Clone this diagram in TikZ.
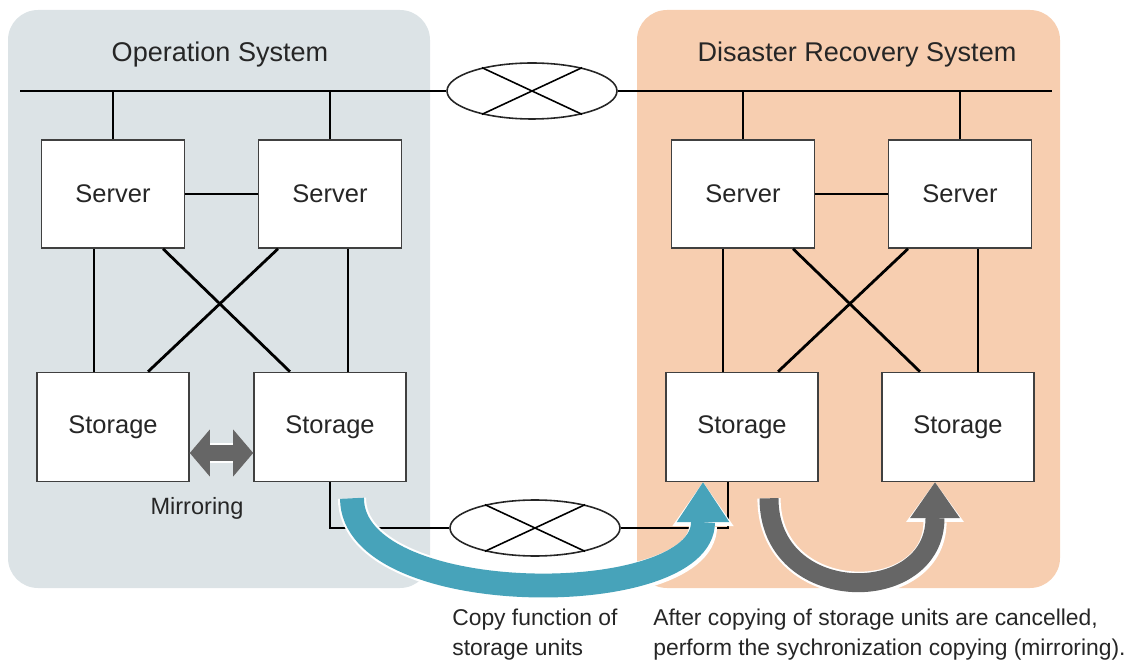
\documentclass[tikz,border=0pt]{standalone}
\usepackage{fontspec}
\setmainfont{Liberation Sans}
\usetikzlibrary{calc,positioning,shapes.geometric,arrows.meta}

\definecolor{opsys}{HTML}{DCE3E6}
\definecolor{drsys}{HTML}{F7CEB0}
\definecolor{copyblue}{HTML}{47A3BA}
\definecolor{mirrorgray}{HTML}{666666}

\begin{document}
\begin{tikzpicture}[
    x=0.02cm, y=-0.02cm,
    server/.style={rectangle, draw=black!75, line width=0.9pt, fill=white, minimum width=2.86cm, minimum height=2.16cm, font=\fontsize{14.5}{17}\selectfont, text=black!85},
    storage/.style={server, minimum width=3.04cm, minimum height=2.18cm},
    network/.style={ellipse, draw=black!85, line width=0.9pt, fill=white, minimum width=3.4cm, minimum height=1.12cm, inner sep=0pt},
    title/.style={font=\fontsize{15.4}{18}\selectfont, text=black!85},
    note/.style={font=\fontsize{13}{17}\selectfont, align=left, inner sep=0pt, text=black!85},
    link/.style={line width=1.6pt},
    cross/.style={line width=0.9pt},
    mirrorarrow/.style={line width=9.6pt, color=mirrorgray, {Triangle[length=11.5pt,width=27pt,line width=0pt]}-{Triangle[length=11.5pt,width=27pt,line width=0pt]}, preaction={draw, color=white, line width=11.6pt}},
    copyarrow/.style={line width=13.6pt, color=copyblue, -{Triangle[length=22.7pt,width=30pt,line width=0pt]}, preaction={draw, color=white, line width=16pt, -{Triangle[length=25pt,width=35pt,line width=0pt]}}},
    syncarrow/.style={line width=10.8pt, color=mirrorgray, -{Triangle[length=20.4pt,width=28.4pt,line width=0pt]}, preaction={draw, color=white, line width=13.2pt, -{Triangle[length=22.6pt,width=33pt,line width=0pt]}}}
]
\useasboundingbox (0,0) rectangle (1143,665);

% Background panels
\fill[opsys, rounded corners=0.6cm] (8,10) rectangle (430,588);
\fill[drsys, rounded corners=0.6cm] (637,10) rectangle (1060,588);

\node[title] (optitle) at (220,55) {Operation System};
\node[title] (drtitle) at (857,55) {Disaster Recovery System};

% Networks
\coordinate (busL) at (20,91);
\coordinate (busR) at (1052,91);
\node[network] (net1) at (532,91) {};
\node[network] (net2) at (535,528) {};

% Operation system
\node[server] (srv1) at (113,194) {Server};
\node[server] (srv2) at (330,194) {Server};
\node[storage] (sto1) at (113,427) {Storage};
\node[storage] (sto2) at (330,427) {Storage};

% Disaster recovery system
\node[server] (rsrv1) at (743,194) {Server};
\node[server] (rsrv2) at (960,194) {Server};
\node[storage] (rsto1) at (742,427) {Storage};
\node[storage] (rsto2) at (958,427) {Storage};

% Bus and WAN
\draw[link] (busL) -- (net1.west);
\draw[link] (net1.east) -- (busR);
\draw[cross] (net1.155) -- (net1.-25);
\draw[cross] (net1.25) -- (net1.-155);
\draw[cross] (net2.155) -- (net2.-25);
\draw[cross] (net2.25) -- (net2.-155);

\draw[link] (srv1.north) -- (srv1.north |- busL);
\draw[link] (srv2.north) -- (srv2.north |- busL);
\draw[link] (rsrv1.north) -- (rsrv1.north |- busL);
\draw[link] (rsrv2.north) -- (rsrv2.north |- busL);

% Server links
\draw[link] (srv1) -- (srv2);
\draw[link] (rsrv1) -- (rsrv2);

\draw[link] ($(srv1.south)+(-19,0)$) -- ($(sto1.north)+(-19,0)$);
\draw[link] ($(srv1.south)+(50,0)$) -- ($(sto2.north)+(-40,0)$);
\draw[link] ($(srv2.south)+(-52,0)$) -- ($(sto1.north)+(35,0)$);
\draw[link] ($(srv2.south)+(18,0)$) -- ($(sto2.north)+(18,0)$);

\draw[link] ($(rsrv1.south)+(-20,0)$) -- ($(rsto1.north)+(-19,0)$);
\draw[link] ($(rsrv1.south)+(50,0)$) -- ($(rsto2.north)+(-38,0)$);
\draw[link] ($(rsrv2.south)+(-52,0)$) -- ($(rsto1.north)+(36,0)$);
\draw[link] ($(rsrv2.south)+(18,0)$) -- ($(rsto2.north)+(20,0)$);

% Storage line over WAN
\draw[link] (sto2.south) |- (net2.west);
\draw[link] (net2.east) -| ($(rsto1.south)+(-14,0)$);

% Arrows
\draw[mirrorarrow] ($(sto1.east)+(0,26)$) -- ($(sto2.west)+(0,26)$);
\draw[copyarrow] ($(sto2.south)+(22,16)$) .. controls +(0,112) and +(0,128) .. ($(rsto1.south)+(-39,0)$);
\draw[syncarrow] ($(rsto1.south)+(27,16)$) .. controls +(0,109) and +(0,125) .. ($(rsto2.south)+(-23,0)$);

% Labels
\node[note, font=\fontsize{13.4}{17}\selectfont] (mirrorlbl) at (197,508) {Mirroring};
\node[note, anchor=west] (copylbl) at (452,635) {Copy function of\\storage units};
\node[note, anchor=west] (synclbl) at (653,635) {After copying of storage units are cancelled,\\perform the sychronization copying (mirroring).};

\end{tikzpicture}
\end{document}
